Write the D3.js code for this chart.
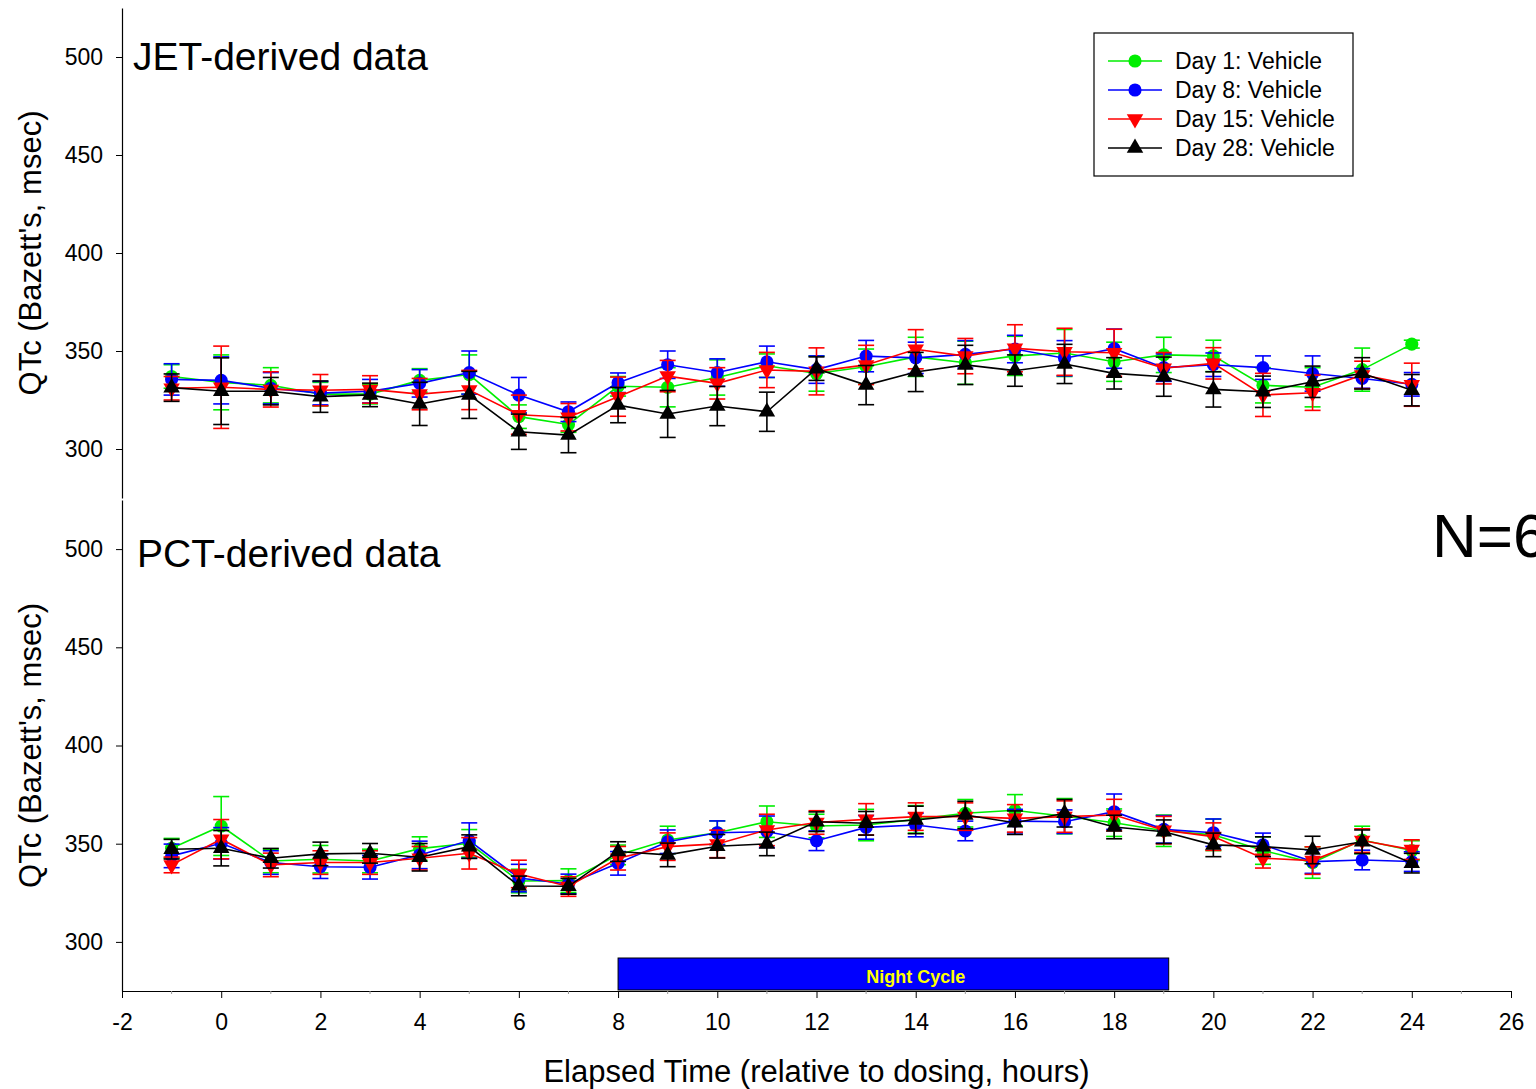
<!DOCTYPE html>
<html>
<head>
<meta charset="utf-8">
<script src="https://cdn.jsdelivr.net/npm/d3@7"></script>
<style>
  body { margin: 0; background: #ffffff; }
  svg text { font-family: "Liberation Sans", Arial, sans-serif; fill: #000; }
</style>
</head>
<body>
<div id="chart"></div>
<script>
// hours relative to dosing
var hours = [-1,0,1,2,3,4,5,6,7,8,9,10,11,12,13,14,15,16,17,18,19,20,21,22,23,24];

// JET-derived means
var jetDay1  = [337,334,332.5,328,328,335,338,316.5,312.5,332,331.5,336.5,342.5,338.5,342,347,344,347.5,349,344.5,348,347.5,332.5,331.5,340.5,353.5];
var jetDay8  = [335.5,335,331,328.5,329.5,333.5,339,327.5,319,333.8,343,339,344.5,340.5,347.4,346.5,348.3,351,346.3,351.2,341.5,343,341.5,338.5,336,333];
var jetDay15 = [331,331.5,330.4,330,330.4,328,330.1,317.5,316.2,326.7,337.2,333.5,340.3,339.6,342.9,350.9,347.4,351.4,349.6,349.1,341.2,343.7,327.6,328.7,337.8,332.8];
var jetDay28 = [331.3,329.5,329.5,326.7,327.6,323,327.6,308.8,307.1,322.4,317.9,321.9,319,341,332.6,339.3,342.9,340,343.4,338.6,336.9,330.4,329.2,334.3,338.6,330];
// JET-derived SEM
var jetDay1Err  = [6,14,9,6,5,6,10,6,4,5,10,9,6,9,9,10,11,10,12,10,9,8,9,10,11,2];
var jetDay8Err  = [8,12,8,6,6,7,11,9,5,5,7,7,8,7,8,8,7,7,9,10,7,6,6,9,5,6];
var jetDay15Err = [6,21,9,8,7,8,10,10,7,10,8,8,9,12,10,10,9,12,12,12,8,8,11,9,7,11];
var jetDay28Err = [7,17,7,8,6,11,12,9,9,9,12,10,10,6,10,10,10,8,10,8,10,9,8,8,8,8];

// PCT-derived means
var pctDay1  = [347.7,359,341.2,342.1,341.2,347.5,350.2,331,331.2,344.3,351.9,355.6,361.2,359,359.5,362.4,365.5,367,364,360.7,356.6,354.5,346.5,340.4,351.9,346.5];
var pctDay8  = [343.8,350.2,340.4,338.3,338,344.3,351.6,332.5,329.5,340,351,355.6,356.1,351.5,358.3,359.5,356.5,361.5,361.2,366.3,357.3,355.6,349.4,340.9,341.7,340.9];
var pctDay15 = [339.2,352.3,339.2,340.4,340.4,342.6,345.1,334.6,328.2,342.6,348.5,349.9,357,360.8,362.4,363.8,363.8,362.9,363.8,364.6,356.9,353.6,342.6,341.4,351.6,347];
var pctDay28 = [347.2,347.7,342.6,344.8,345.1,343.1,348.5,328.5,328.3,346,344.3,348.7,349.9,361.2,360.4,362.1,364.6,360.7,365.5,358.5,356.1,349.4,348.5,346.8,351,340.1];
// PCT-derived SEM
var pctDay1Err  = [5,15,6,7,6,6,7,6,6,5,7,6,8,6,8,7,7,8,9,7,8,8,7,8,7,5];
var pctDay8Err  = [6,8,6,6,6,7,9,7,5,6,6,6,8,5,6,6,5,6,6,9,7,7,6,6,5,5];
var pctDay15Err = [4,10,6,6,6,6,8,7,5,6,7,7,8,6,8,7,7,7,8,8,7,7,5,7,6,5];
var pctDay28Err = [5,9,5,6,5,7,6,5,4,5,6,6,6,5,6,7,7,6,7,6,6,6,5,7,6,5];

var seriesNames = ["Day 1: Vehicle", "Day 8: Vehicle", "Day 15: Vehicle", "Day 28: Vehicle"];
var seriesColors = ["#00ee00", "#0000ff", "#ff0000", "#000000"];
var seriesShapes = ["circle", "circle", "down", "up"];

var yTicks = [300, 350, 400, 450, 500];
var xTicks = [-2, 0, 2, 4, 6, 8, 10, 12, 14, 16, 18, 20, 22, 24, 26];
var xMinorTicks = [-1, 1, 3, 5, 7, 9, 11, 13, 15, 17, 19, 21, 23, 25];

var nightCycle = [8, 19.1];
var nightLabelAt = 14;

var width = 1536, height = 1089;

var canvas = d3.select("#chart")
                .append("svg")
                  .attr("width", width)
                  .attr("height", height);

//scales
var xScale = d3.scaleLinear().domain([-2, 26]).range([122, 1511]);
var yTop = d3.scaleLinear().domain([275, 525]).range([498, 8]);
var yBottom = d3.scaleLinear().domain([275, 525]).range([991, 500]);

function markerPath(shape) {
  if (shape == "circle") return d3.symbol().type(d3.symbolCircle).size(135)();
  return d3.symbol().type(d3.symbolTriangle).size(118)();
}
function markerTransform(shape, x, y) {
  if (shape == "down") return "translate(" + x + "," + y + ") rotate(180)";
  return "translate(" + x + "," + y + ")";
}

function drawPanel(yScale, means, errs, title, titleX, titleY) {
  var panel = canvas.append("g");

  // y axis
  var yAxis = panel.append("g")
                .attr("class", "y-axis")
                .attr("transform", "translate(" + xScale(-2) + ",0)")
                .call(d3.axisLeft(yScale).tickValues(yTicks).tickSize(6).tickSizeOuter(0).tickPadding(13)
                        .tickFormat(d => String(d)));
  yAxis.select(".domain").attr("stroke", "#000").attr("stroke-width", 1.2);
  yAxis.selectAll("text").style("font-size", "23px");

  var midY = (yScale.range()[0] + yScale.range()[1]) / 2;
  panel.append("text")
    .attr("transform", "translate(41," + midY + ") rotate(-90)")
    .attr("text-anchor", "middle")
    .style("font-size", "31px")
    .text("QTc (Bazett's, msec)");

  panel.append("text")
    .attr("x", titleX)
    .attr("y", titleY)
    .style("font-size", "39px")
    .text(title);

  for (var s = 0; s < means.length; s++) {
    var pts = hours.map(function(h, i) { return {h: h, v: means[s][i], e: errs[s][i]}; });
    var color = seriesColors[s];
    var shape = seriesShapes[s];
    var g = panel.append("g");

    g.append("path")
      .datum(pts)
      .attr("fill", "none")
      .attr("stroke", color)
      .attr("stroke-width", 1.6)
      .attr("d", d3.line().x(d => xScale(d.h)).y(d => yScale(d.v)));

    var bars = g.selectAll(".err").data(pts).enter().append("g")
      .attr("stroke", color)
      .attr("stroke-width", 1.6);
    bars.append("line")
      .attr("x1", d => xScale(d.h)).attr("x2", d => xScale(d.h))
      .attr("y1", d => yScale(d.v - d.e)).attr("y2", d => yScale(d.v + d.e));
    bars.append("line")
      .attr("x1", d => xScale(d.h) - 8).attr("x2", d => xScale(d.h) + 8)
      .attr("y1", d => yScale(d.v + d.e)).attr("y2", d => yScale(d.v + d.e));
    bars.append("line")
      .attr("x1", d => xScale(d.h) - 8).attr("x2", d => xScale(d.h) + 8)
      .attr("y1", d => yScale(d.v - d.e)).attr("y2", d => yScale(d.v - d.e));

    g.selectAll(".pt").data(pts).enter().append("path")
      .attr("d", markerPath(shape))
      .attr("transform", d => markerTransform(shape, xScale(d.h), yScale(d.v)))
      .attr("fill", color);
  }
  return panel;
}

drawPanel(yTop, [jetDay1, jetDay8, jetDay15, jetDay28],
          [jetDay1Err, jetDay8Err, jetDay15Err, jetDay28Err], "JET-derived data", 133, 70);
drawPanel(yBottom, [pctDay1, pctDay8, pctDay15, pctDay28],
          [pctDay1Err, pctDay8Err, pctDay15Err, pctDay28Err], "PCT-derived data", 137, 567);

// x axis on bottom panel
var xAxis = canvas.append("g")
              .attr("class", "x-axis")
              .attr("transform", "translate(0," + yBottom(275) + ")")
              .call(d3.axisBottom(xScale).tickValues(xTicks).tickSize(7).tickSizeOuter(0).tickPadding(16)
                      .tickFormat(d => String(d)));
xAxis.select(".domain").attr("stroke", "#000").attr("stroke-width", 1.2);
xAxis.selectAll("text").style("font-size", "23px");
canvas.append("g").selectAll("line").data(xMinorTicks).enter().append("line")
  .attr("x1", d => xScale(d)).attr("x2", d => xScale(d))
  .attr("y1", yBottom(275)).attr("y2", yBottom(275) + 3)
  .attr("stroke", "#999").attr("stroke-width", 1);

canvas.append("text")
  .attr("x", (xScale(-2) + xScale(26)) / 2)
  .attr("y", 1082)
  .attr("text-anchor", "middle")
  .style("font-size", "31px")
  .text("Elapsed Time (relative to dosing, hours)");

// night cycle bar
canvas.append("rect")
  .attr("x", xScale(nightCycle[0]))
  .attr("y", 958)
  .attr("width", xScale(nightCycle[1]) - xScale(nightCycle[0]))
  .attr("height", 32)
  .attr("fill", "#0000ff")
  .attr("stroke", "#000")
  .attr("stroke-width", 1);
canvas.append("text")
  .attr("x", xScale(nightLabelAt))
  .attr("y", 983)
  .attr("text-anchor", "middle")
  .style("font-size", "18px")
  .style("font-weight", "bold")
  .style("fill", "#ffff00")
  .text("Night Cycle");

// legend
var legend = canvas.append("g").attr("transform", "translate(1094,33)");
legend.append("rect")
  .attr("width", 259).attr("height", 143)
  .attr("fill", "#fff").attr("stroke", "#000").attr("stroke-width", 1.2);
seriesNames.forEach(function(name, i) {
  var yy = 28 + i * 29;
  legend.append("line")
    .attr("x1", 14).attr("x2", 68).attr("y1", yy).attr("y2", yy)
    .attr("stroke", seriesColors[i]).attr("stroke-width", 1.6);
  legend.append("path")
    .attr("d", markerPath(seriesShapes[i]))
    .attr("transform", markerTransform(seriesShapes[i], 41, yy))
    .attr("fill", seriesColors[i]);
  legend.append("text")
    .attr("x", 81).attr("y", yy + 8)
    .style("font-size", "23px")
    .text(name);
});

// reference image shows this label running off the right edge
canvas.append("text")
  .attr("x", 1432)
  .attr("y", 557)
  .style("font-size", "62px")
  .text("N=6");
</script>
</body>
</html>
